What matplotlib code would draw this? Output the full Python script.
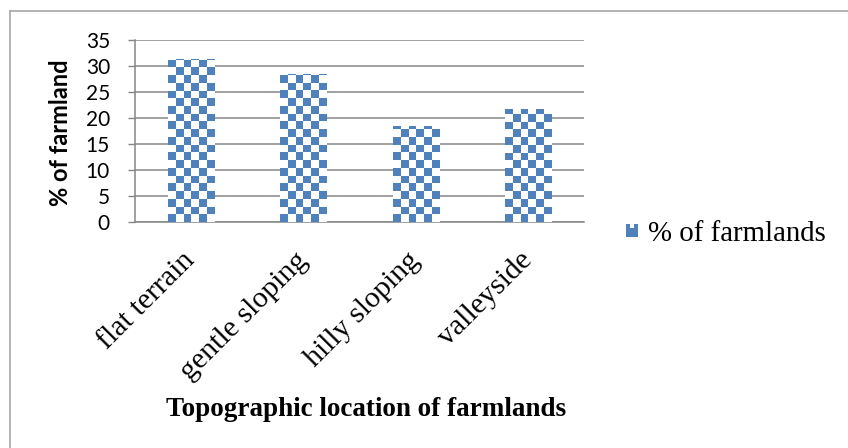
import numpy as np
import matplotlib
matplotlib.use("Agg")
import matplotlib.pyplot as plt
from matplotlib.colors import ListedColormap
from matplotlib.patches import Rectangle
from matplotlib.legend_handler import HandlerBase
from matplotlib.lines import Line2D

# Data
categories = ["flat terrain", "gentle sloping", "hilly sloping", "valleyside"]
percent_farmland = [31.4, 28.5, 18.4, 21.7]
y_ticks = [0, 5, 10, 15, 20, 25, 30, 35]
series_name = "% of farmlands"
x_title = "Topographic location of farmlands"
y_title = "% of farmland"

# Styling
BLUE = "#4F81BD"
GRID = "#868686"
FRAME = "#A6A6A6"
CELL_PX = 7.7
SANS = ["Lato", "DejaVu Sans"]
SERIF = ["Liberation Serif", "DejaVu Serif"]

W, H = 848, 448
fig = plt.figure(figsize=(W / 100, H / 100), dpi=100)
ax = fig.add_axes([135 / W, 1 - 222 / H, (584 - 135) / W, (222 - 40) / H])

x = np.arange(len(categories))
bars = ax.bar(x, percent_farmland, width=0.41, facecolor="white",
              edgecolor="none", zorder=2, label=series_name)
ax.set_xlim(-0.5, len(categories) - 0.5)
ax.set_ylim(y_ticks[0], y_ticks[-1])

# Checkerboard fill for each bar, clipped to the bar shape
checker_cmap = ListedColormap(["white", BLUE])
for rect in bars:
    x0, y0 = rect.get_x(), rect.get_y()
    x1, y1 = x0 + rect.get_width(), y0 + rect.get_height()
    (px0, py0), (px1, py1) = ax.transData.transform([(x0, y0), (x1, y1)])
    ncol = max(1, int(round((px1 - px0) / CELL_PX)))
    nrow = max(1, int(np.ceil((py1 - py0) / CELL_PX)))
    top = y0 + nrow * CELL_PX * (y1 - y0) / (py1 - py0)
    ii, jj = np.indices((nrow, ncol))
    pattern = ((ii + jj) % 2 == 0).astype(float)
    im = ax.imshow(pattern, cmap=checker_cmap, vmin=0, vmax=1,
                   extent=(x0, x1, y0, top), origin="lower", aspect="auto",
                   interpolation="nearest", zorder=3)
    im.set_clip_path(rect)

ax.set_xlim(-0.5, len(categories) - 0.5)
ax.set_ylim(y_ticks[0], y_ticks[-1])

# Axes styling
ax.set_yticks(y_ticks)
ax.set_yticklabels([str(t) for t in y_ticks], fontfamily=SANS, fontsize=15)
ax.set_xticks(x)
ax.set_xticklabels(categories, fontfamily=SERIF, fontsize=21.5, rotation=45,
                   ha="right", va="center", rotation_mode="anchor")
ax.tick_params(axis="x", length=0, pad=25)
ax.tick_params(axis="y", length=5, width=1, color=GRID, pad=13)
ax.yaxis.grid(True, color=GRID, lw=1.1)
ax.set_axisbelow(True)
for side in ("top", "right"):
    ax.spines[side].set_visible(False)
for side in ("left", "bottom"):
    ax.spines[side].set_color(GRID)
    ax.spines[side].set_linewidth(1.1)

# Titles
fig.text(60 / W, 1 - 133 / H, y_title, rotation=90, ha="center", va="center",
         fontfamily=SANS, fontweight="bold", fontsize=17)
fig.text(366 / W, 1 - 409 / H, x_title, ha="center", va="center",
         fontfamily=SERIF, fontweight="bold", fontsize=19.5)


# Legend with a small checkered key
class CheckerHandler(HandlerBase):
    def create_artists(self, legend, orig_handle, xdescent, ydescent,
                       width, height, fontsize, trans):
        n = 3
        cw, ch = width / n, height / n
        artists = []
        for r in range(n):
            for c in range(n):
                if c == 1 and r == n - 1:
                    continue
                artists.append(Rectangle((-xdescent + c * cw, -ydescent + r * ch),
                                         cw, ch, facecolor=BLUE, edgecolor="none",
                                         transform=trans))
        return artists


fig.legend(handles=[bars], labels=[series_name],
           handler_map={type(bars): CheckerHandler()},
           loc="center left", bbox_to_anchor=(626 / W, 1 - 234 / H),
           frameon=False, prop={"family": SERIF, "size": 20.8},
           handlelength=0.4, handleheight=0.35, handletextpad=0.35,
           borderpad=0, borderaxespad=0)

# Outer frame (left and top edges)
fig.add_artist(Line2D([10 / W, 10 / W], [0, 1 - 11 / H],
                      transform=fig.transFigure, color=FRAME, lw=1.2))
fig.add_artist(Line2D([10 / W, 1], [1 - 11 / H, 1 - 11 / H],
                      transform=fig.transFigure, color=FRAME, lw=1.2))

fig.savefig("out.png", dpi=100)
